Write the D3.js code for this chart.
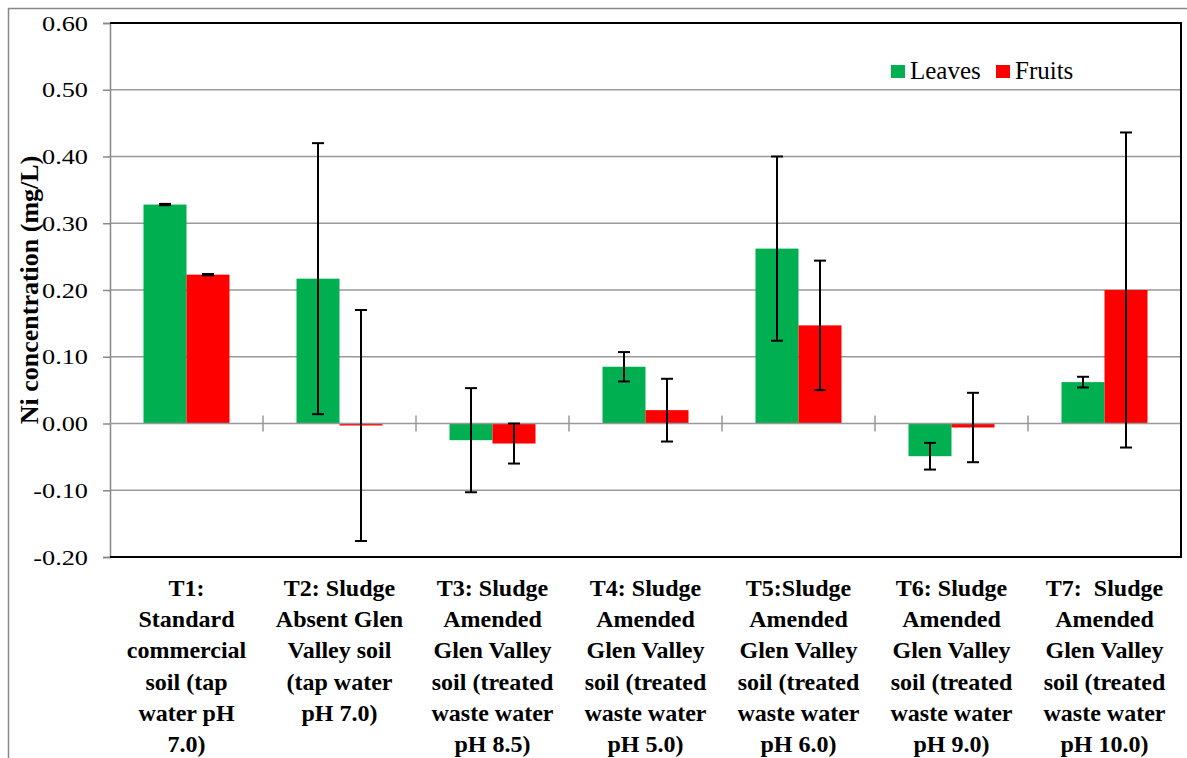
<!DOCTYPE html>
<html>
<head>
<meta charset="utf-8">
<script src="https://cdn.jsdelivr.net/npm/d3@7"></script>
<style>
  body { margin: 0; background: #fff; }
  svg { display: block; }
  svg text { font-family: "Liberation Serif", "Times New Roman", Times, serif; }
</style>
</head>
<body>
<div id="chart"></div>
<script>
// data
const categories = [
  ["T1:", "Standard", "commercial", "soil (tap", "water pH", "7.0)"],
  ["T2: Sludge", "Absent Glen", "Valley soil", "(tap water", "pH 7.0)"],
  ["T3: Sludge", "Amended", "Glen Valley", "soil (treated", "waste water", "pH 8.5)"],
  ["T4: Sludge", "Amended", "Glen Valley", "soil (treated", "waste water", "pH 5.0)"],
  ["T5:Sludge", "Amended", "Glen Valley", "soil (treated", "waste water", "pH 6.0)"],
  ["T6: Sludge", "Amended", "Glen Valley", "soil (treated", "waste water", "pH 9.0)"],
  ["T7:\u00a0 Sludge", "Amended", "Glen Valley", "soil (treated", "waste water", "pH 10.0)"]
]
const seriesNames = ["Leaves", "Fruits"]
const leaves = [0.328, 0.217, -0.025, 0.085, 0.262, -0.049, 0.062]
const leavesErr = [0.001, 0.203, 0.078, 0.022, 0.138, 0.020, 0.008]
const fruits = [0.223, -0.003, -0.030, 0.020, 0.147, -0.006, 0.200]
const fruitsErr = [0.001, 0.173, 0.030, 0.047, 0.097, 0.052, 0.236]
const yTicks = [-0.2, -0.1, 0, 0.1, 0.2, 0.3, 0.4, 0.5, 0.6]
const colors = ["#00B050", "#FF0000"]

const W = 1187, H = 758
const pLeft = 110, pRight = 1181, pTop = 23, pBottom = 557

const svg = d3.select("#chart").append("svg")
  .attr("width", W).attr("height", H)

// outer chart border
svg.append("path")
  .attr("d", `M8.5,${H} V8.5 H${W}`)
  .attr("fill", "none").attr("stroke", "#888").attr("stroke-width", 1.5)

const x = d3.scaleBand().domain(d3.range(categories.length)).range([pLeft, pRight])
const xs = d3.scaleBand().domain([0, 1]).range([0, 86])
const y = d3.scaleLinear().domain([-0.2, 0.6]).range([pBottom, pTop])

// gridlines
svg.append("g").selectAll("line")
  .data(yTicks.filter(d => d !== 0 && d !== -0.2 && d !== 0.6))
  .enter().append("line")
  .attr("x1", pLeft).attr("x2", pRight)
  .attr("y1", d => y(d)).attr("y2", d => y(d))
  .attr("stroke", "#999").attr("stroke-width", 1.5)

// y axis
const fmt = d => d3.format(".2f")(d).replace("\u2212", "-")
const yAxis = svg.append("g")
  .attr("transform", `translate(${pLeft},0)`)
  .call(d3.axisLeft(y).tickValues(yTicks).tickFormat(fmt).tickSizeOuter(0).tickSize(7))
yAxis.attr("font-family", null)
yAxis.select(".domain").attr("stroke", "#888").attr("stroke-width", 1.5)
yAxis.selectAll(".tick line").attr("stroke", "#888").attr("stroke-width", 1.5)
yAxis.selectAll(".tick text")
  .attr("font-size", 21).attr("fill", "#000")
  .attr("x", 0).attr("dy", "0.34em")
  .attr("text-anchor", "end")
  .attr("transform", "translate(-22,0) scale(1.25,1)")

const series = [
  {name: seriesNames[0], values: leaves, err: leavesErr},
  {name: seriesNames[1], values: fruits, err: fruitsErr}
]

// bars
const groups = svg.append("g").selectAll("g")
  .data(series).enter().append("g")
  .attr("fill", (d, i) => colors[i])

groups.selectAll("rect")
  .data((s, si) => s.values.map((v, i) => ({v, i, si})))
  .enter().append("rect")
  .attr("x", d => x(d.i) + (x.bandwidth() - 86) / 2 + xs(d.si))
  .attr("width", xs.bandwidth())
  .attr("y", d => y(Math.max(0, d.v)))
  .attr("height", d => Math.abs(y(d.v) - y(0)))

// zero line with category ticks
svg.append("line")
  .attr("x1", pLeft).attr("x2", pRight)
  .attr("y1", y(0)).attr("y2", y(0))
  .attr("stroke", "#999").attr("stroke-width", 1.5)
svg.append("g").selectAll("line")
  .data(d3.range(1, categories.length + 1))
  .enter().append("line")
  .attr("x1", d => pLeft + d * x.step()).attr("x2", d => pLeft + d * x.step())
  .attr("y1", y(0) - 8).attr("y2", y(0) + 8)
  .attr("stroke", "#999").attr("stroke-width", 1.5)

// plot frame: top, right, bottom dark
svg.append("path")
  .attr("d", `M${pLeft},${pTop} H${pRight} V${pBottom} H${pLeft}`)
  .attr("fill", "none").attr("stroke", "#000").attr("stroke-width", 2)

// error bars
const errData = []
series.forEach((s, si) => s.values.forEach((v, i) => {
  errData.push({cx: x(i) + (x.bandwidth() - 86) / 2 + xs(si) + xs.bandwidth() / 2, v, e: s.err[i]})
}))
const eb = svg.append("g").attr("stroke", "#000").attr("stroke-width", 2)
eb.selectAll(".stem").data(errData).enter().append("line")
  .attr("x1", d => d.cx).attr("x2", d => d.cx)
  .attr("y1", d => y(d.v + d.e)).attr("y2", d => y(d.v - d.e))
eb.selectAll(".capT").data(errData).enter().append("line")
  .attr("x1", d => d.cx - 6).attr("x2", d => d.cx + 6)
  .attr("y1", d => y(d.v + d.e)).attr("y2", d => y(d.v + d.e))
eb.selectAll(".capB").data(errData).enter().append("line")
  .attr("x1", d => d.cx - 6).attr("x2", d => d.cx + 6)
  .attr("y1", d => y(d.v - d.e)).attr("y2", d => y(d.v - d.e))

// category labels
const labels = svg.append("g")
  .attr("font-weight", "bold").attr("font-size", 24)
  .attr("text-anchor", "middle").attr("fill", "#000")
labels.selectAll("text").data(categories).enter().append("text")
  .attr("x", (d, i) => x(i) + x.bandwidth() / 2)
  .attr("y", 596)
  .selectAll("tspan").data(d => d).enter().append("tspan")
  .attr("x", function () { return this.parentNode.getAttribute("x") })
  .attr("dy", (d, i) => i === 0 ? 0 : 31.2)
  .text(d => d)

// y axis title
svg.append("text")
  .attr("transform", `translate(38,290) rotate(-90)`)
  .attr("text-anchor", "middle")
  .attr("font-weight", "bold").attr("font-size", 26)
  .text("Ni concentration (mg/L)")

// legend
const legend = svg.append("g").attr("transform", "translate(891,65)")
const lx = [0, 105]
seriesNames.forEach((n, i) => {
  legend.append("rect").attr("x", lx[i]).attr("y", 0).attr("width", 14).attr("height", 13)
    .attr("fill", colors[i])
  legend.append("text").attr("x", lx[i] + 19).attr("y", 14)
    .attr("font-size", 25).text(n)
})
</script>
</body>
</html>
